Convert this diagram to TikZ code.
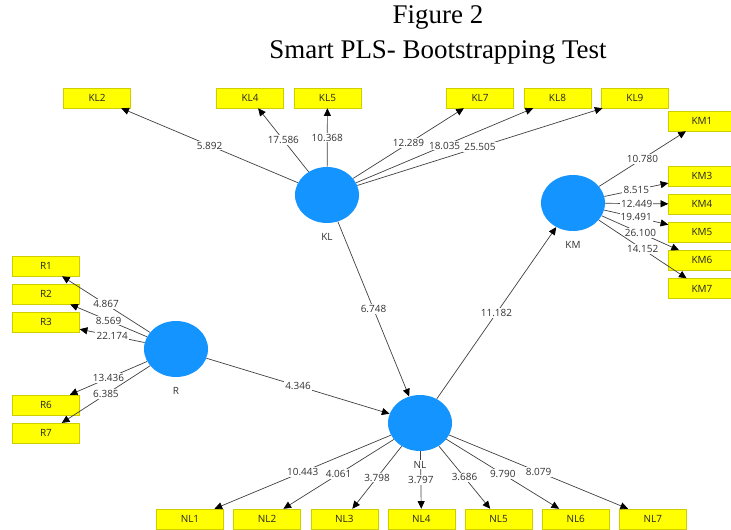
\documentclass[tikz,border=0pt]{standalone}
\usepackage{fontspec}
\setmainfont{Open Sans}
\newfontfamily\titlefont{Liberation Serif}
\usetikzlibrary{shapes.geometric,positioning,arrows.meta}
\definecolor{latent}{RGB}{20,148,255}
\definecolor{indfill}{RGB}{255,255,0}
\definecolor{indline}{RGB}{205,205,0}

\begin{document}
\begin{tikzpicture}
    [x=0.03cm, y=-0.03cm,
    >={Triangle[length=2.3mm,width=2.1mm,color=black]},
    every edge/.style={draw=black!75, line width=0.6pt},
    indicator/.style={
      rectangle,
      minimum width=2.01cm,
      minimum height=0.6cm,
      inner sep=0pt,
      draw=indline,
      fill=indfill,
      text=black!85,
      font=\fontsize{8.5}{10}\selectfont},
    construct/.style={
      ellipse,
      minimum width=1.92cm,
      minimum height=1.68cm,
      inner sep=0pt,
      fill=latent},
    weight/.style={fill=white, inner sep=1pt, text=black!80, font=\fontsize{8.5}{10}\selectfont},
    lvname/.style={fill=white, inner sep=1pt, text=black!80, font=\fontsize{8.5}{10}\selectfont},
    heading/.style={font=\titlefont\fontsize{23}{28}\selectfont}
    ]
    \useasboundingbox (0,0) rectangle (731,529);
    \node (fig) [heading] at (438,17) {Figure 2};
    \node (title) [heading] at (438,52) {Smart PLS- Bootstrapping Test};

    % constructs
    \node (KL) [construct] at (327,195) {};
    \node (KM) [construct] at (573,203) {};
    \node (R) [construct] at (176,349) {};
    \node (NL) [construct] at (420,423) {};

    % indicators
    \node (KL2) [indicator] at (97,98) {KL2};
    \node (KL4) [indicator] at (250,98) {KL4};
    \node (KL5) [right=0.3cm of KL4] [indicator] {KL5};
    \node (KL7) [indicator] at (480,98) {KL7};
    \node (KL8) [right=0.3cm of KL7] [indicator] {KL8};
    \node (KL9) [right=0.3cm of KL8] [indicator] {KL9};
    \node (KM1) [indicator] at (702,121) {KM1};
    \node (KM3) [indicator] at (702,176) {KM3};
    \node (KM4) [below=0.23cm of KM3] [indicator] {KM4};
    \node (KM5) [below=0.23cm of KM4] [indicator] {KM5};
    \node (KM6) [below=0.23cm of KM5] [indicator] {KM6};
    \node (KM7) [below=0.23cm of KM6] [indicator] {KM7};
    \node (R1) [indicator] at (46,266) {R1};
    \node (R2) [below=0.23cm of R1] [indicator] {R2};
    \node (R3) [below=0.23cm of R2] [indicator] {R3};
    \node (R6) [indicator] at (46,405) {R6};
    \node (R7) [below=0.23cm of R6] [indicator] {R7};
    \node (NL1) [indicator] at (190,519) {NL1};
    \node (NL2) [right=0.29cm of NL1] [indicator] {NL2};
    \node (NL3) [right=0.29cm of NL2] [indicator] {NL3};
    \node (NL4) [right=0.29cm of NL3] [indicator] {NL4};
    \node (NL5) [right=0.29cm of NL4] [indicator] {NL5};
    \node (NL6) [right=0.29cm of NL5] [indicator] {NL6};
    \node (NL7) [right=0.29cm of NL6] [indicator] {NL7};

    \path[->]
      (KL) edge node [weight] {5.892} (KL2)
      (KL) edge node [weight] {17.586} (KL4)
      (KL) edge node [weight] {10.368} (KL5)
      (KL) edge node [weight] {12.289} (KL7)
      (KL) edge node [weight] {18.035} (KL8)
      (KL) edge node [weight] {25.505} (KL9)
      (KM) edge node [weight] {10.780} (KM1)
      (KM) edge node [weight] {8.515} (KM3)
      (KM) edge node [weight] {12.449} (KM4)
      (KM) edge node [weight] {19.491} (KM5)
      (KM) edge node [weight] {26.100} (KM6)
      (KM) edge node [weight] {14.152} (KM7)
      (R) edge node [weight] {4.867} (R1)
      (R) edge node [weight] {8.569} (R2)
      (R) edge node [weight] {22.174} (R3)
      (R) edge node [weight] {13.436} (R6)
      (R) edge node [weight] {6.385} (R7)
      (NL) edge node [weight] {10.443} (NL1)
      (NL) edge node [weight] {4.061} (NL2)
      (NL) edge node [weight] {3.798} (NL3)
      (NL) edge node [weight] {3.797} (NL4)
      (NL) edge node [weight] {3.686} (NL5)
      (NL) edge node [weight] {9.790} (NL6)
      (NL) edge node [weight] {8.079} (NL7)
      (KL) edge node [weight] {6.748} (NL)
      (R) edge node [weight] {4.346} (NL)
      (NL) edge node [weight] {11.182} (KM);

    % construct names
    \node (KLname) [below=0.25cm of KL] [lvname] {KL};
    \node (KMname) [below=0.25cm of KM] [lvname] {KM};
    \node (Rname) [below=0.25cm of R] [lvname] {R};
    \node (NLname) [below=0.25cm of NL] [lvname] {NL};
\end{tikzpicture}
\end{document}
